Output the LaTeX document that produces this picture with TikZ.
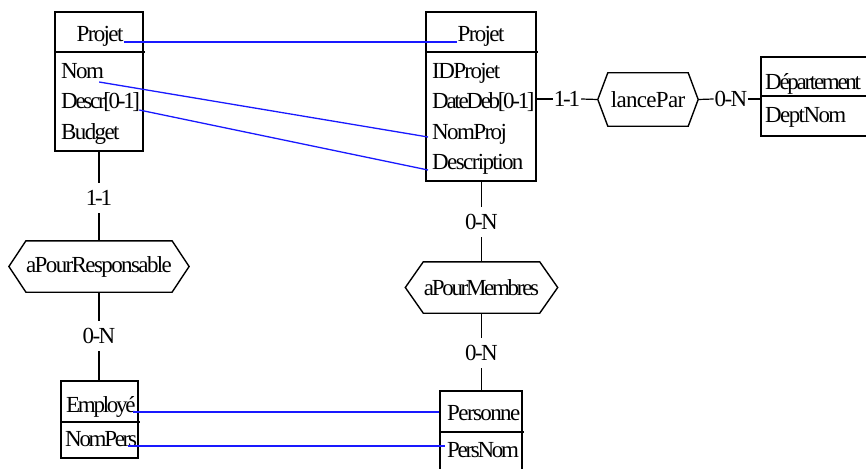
\documentclass[tikz,border=0pt]{standalone}
\usepackage{fontspec}
\setmainfont[LetterSpace=-7]{Liberation Serif}
\newfontfamily\tightfont[LetterSpace=-10]{Liberation Serif}
\newfontfamily\loosefont[LetterSpace=-3]{Liberation Serif}
\usetikzlibrary{calc}
\definecolor{linkblue}{RGB}{25,25,255}
\tikzset{
  every node/.style={inner sep=0pt, font=\fontsize{23}{27}\selectfont},
  tight/.style={font=\fontsize{23}{27}\tightfont},
  loose/.style={font=\fontsize{23}{27}\loosefont},
  attr/.style={anchor=base west},
  head/.style={anchor=base},
  box/.style={draw, line width=1.4pt, inner sep=0pt},
  divider/.style={line width=2pt},
  hexline/.style={line width=1.4pt, line join=miter},
  card/.style={minimum height=30pt, inner xsep=1pt},
  link/.style={line width=1.2pt},
  corr/.style={draw=linkblue, line width=1.3pt},
}
% outline of a relationship: flat top and bottom, pointed ends #2 deep
\newcommand\hexborder[2]{%
  \draw[hexline] (#1.north west) -- (#1.north east) -- ($(#1.east)+(#2,0)$)
    -- (#1.south east) -- (#1.south west) -- ($(#1.west)+(-#2,0)$) -- cycle;}
\begin{document}
\begin{tikzpicture}[x=1pt, y=-1pt]
\clip (0,0) rectangle (866,468);

% ---- entity Projet (left)
\node[box, minimum width=88pt, minimum height=139pt] (projA) at (99,81.5) {};
\draw[divider] (projA.west |- 0,52) -- ([xshift=1pt]projA.east |- 0,52);
\node[head] (hdrA) at (100,42) {Projet};
\node[attr] (nom) at (61,79) {Nom};
\node[attr, tight] (descr) at (61,109) {Descr[0-1]};
\node[attr] (budget) at (61,139) {Budget};

% ---- entity Projet (right)
\node[box, minimum width=110pt, minimum height=169pt] (projB) at (481,96.5) {};
\draw[divider] (projB.west |- 0,52) -- ([xshift=1pt]projB.east |- 0,52);
\node[head] (hdrB) at (481,42) {Projet};
\node[attr] (idp) at (432,79) {IDProjet};
\node[attr, tight] (dated) at (432,109) {DateDeb[0-1]};
\node[attr] (nomproj) at (432,139) {NomProj};
\node[attr] (descn) at (432,169) {Description};

% ---- entity Département (runs past the right edge)
\node[box, minimum width=111pt, minimum height=79pt] (dept) at (816.5,96.5) {};
\draw[divider] (dept.west |- 0,96) -- (dept.east |- 0,96);
\node[attr, tight] (deptname) at (765,90) {Département};
\node[attr] (deptnom) at (765,122) {DeptNom};

% ---- entity Employé
\node[box, minimum width=77pt, minimum height=77pt] (empl) at (99.5,419.5) {};
\draw[divider] (empl.west |- 0,422) -- ([xshift=1pt]empl.east |- 0,422);
\node[attr, tight] (emp) at (66,412) {Employé};
\node[attr, tight] (nompers) at (65,446) {NomPers};

% ---- entity Personne (runs past the lower edge)
\node[box, minimum width=82pt, minimum height=84pt] (pers) at (481,433) {};
\draw[divider] (pers.west |- 0,432) -- ([xshift=1pt]pers.east |- 0,432);
\node[attr] (persn) at (447,420) {Personne};
\node[attr, tight] (persnom) at (447,457) {PersNom};

% ---- relationships
\node[minimum width=144pt, minimum height=51pt] (resp) at (99,266.5) {aPourResponsable};
\hexborder{resp}{17}
\node[tight, minimum width=116pt, minimum height=51pt] (memb) at (481.5,287.5) {aPourMembres};
\hexborder{memb}{18}
\node[loose, minimum width=80pt, minimum height=53pt] (lance) at (648,99.5) {lancePar};
\hexborder{lance}{10}
\coordinate (lanceW) at ($(lance.west)+(-10,0)$);
\coordinate (lanceE) at ($(lance.east)+(10,0)$);

% ---- cardinalities
\node[card, tight] (c1) at (99,198) {1-1};
\node[card] (c2) at (99,336) {0-N};
\node[card] (c3) at (481.5,222) {0-N};
\node[card] (c4) at (481.5,353) {0-N};
\node[card, tight] (c5) at (567,99) {1-1};
\node[card] (c6) at (731,99) {0-N};

% ---- links
\draw[link] (projA.south -| c1) -- (c1.north);
\draw[link] (c1.south) -- (resp.north -| c1);
\draw[link] (resp.south -| c2) -- (c2.north);
\draw[link] (c2.south) -- (empl.north -| c2);
\draw[link] (projB.south -| c3) -- (c3.north);
\draw[link] (c3.south) -- (memb.north -| c3);
\draw[link] (memb.south -| c4) -- (c4.north);
\draw[link] (c4.south) -- (pers.north -| c4);
\draw[link] (projB.east |- c5) -- (c5.west);
\draw[link] (c5.east) -- (lanceW);
\draw[link] (lanceE) -- (c6.west);
\draw[link] (c6.east) -- (dept.west |- c6);

% ---- correspondences between the two schemas
\draw[corr] (hdrA.base east) -- (hdrB.base west);
\draw[corr] ($(nom.base east)+(-5,3)$) -- ($(nomproj.base west)+(-4,-2)$);
\draw[corr] ($(descr.base east)+(-1,1)$) -- ($(descn.base west)+(-4,1)$);
\draw[corr] ($(emp.base east)+(-3,0)$) -- (pers.west |- emp.base);
\draw[corr] ($(nompers.base east)+(-9,0)$) -- ($(persnom.base west)+(-2,-11)$);
\end{tikzpicture}
\end{document}
